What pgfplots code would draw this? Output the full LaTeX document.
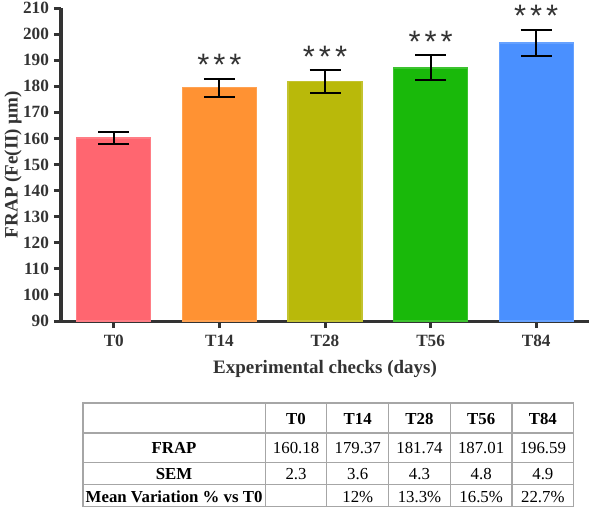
\documentclass[border=0pt]{standalone}
\usepackage{fontspec}
\setmainfont{Liberation Serif}
\setsansfont{Liberation Sans}
\usepackage{array}
\usepackage{colortbl}
\usepackage{pgfplots}
\pgfplotsset{compat=1.18}
\definecolor{cA}{HTML}{FF6670}
\definecolor{cB}{HTML}{FF9233}
\definecolor{cC}{HTML}{B9B90A}
\definecolor{cD}{HTML}{19B90A}
\definecolor{cE}{HTML}{4A90FF}
\definecolor{axgray}{HTML}{333333}
\definecolor{tabgray}{HTML}{A6A6A6}
\newcolumntype{C}[1]{>{\centering\arraybackslash}p{#1}}
\begin{document}
\begin{tikzpicture}
\path[use as bounding box] (-30.5pt,-94pt) rectangle (266.5pt,160.5pt);
\begin{axis}[
  at={(0,0)}, anchor=south west,
  scale only axis, width=264pt, height=156.5pt,
  xmin=-0.5, xmax=4.5, ymin=90, ymax=210,
  xtick={0,1,2,3,4}, xticklabels={T0,T14,T28,T56,T84},
  ytick={90,100,...,210},
  axis x line*=bottom, axis y line*=left,
  axis line style={line width=1.5pt, color=axgray, -},
  tick style={line width=1.5pt, color=axgray},
  tick align=outside,
  major tick length=3.5pt,
  /pgf/number format/assume math mode=true,
  tick label style={font=\fontsize{8.6}{10}\selectfont\bfseries, text=axgray},
  yticklabel style={xshift=1pt},
  xlabel={Experimental checks (days)},
  ylabel={FRAP (Fe(II) µm)},
  label style={font=\fontsize{9.5}{11}\selectfont\bfseries, text=axgray},
  ylabel style={at={(axis description cs:-0.091,0.5)}, anchor=center},
  error bars/error bar style={line width=1pt, black},
  error bars/error mark options={rotate=90, mark size=7.75pt, line width=1pt, black},
]
\addplot[ybar, bar width=0.7, fill=cA, draw=cA!85!white, line width=0.6pt,
  error bars/.cd, y dir=both, y explicit] coordinates {(0,160.18) +- (0,2.3)};
\addplot[ybar, bar width=0.7, fill=cB, draw=cB!85!white, line width=0.6pt,
  error bars/.cd, y dir=both, y explicit] coordinates {(1,179.37) +- (0,3.6)};
\addplot[ybar, bar width=0.7, fill=cC, draw=cC!85!white, line width=0.6pt,
  error bars/.cd, y dir=both, y explicit] coordinates {(2,181.74) +- (0,4.3)};
\addplot[ybar, bar width=0.7, fill=cD, draw=cD!85!white, line width=0.6pt,
  error bars/.cd, y dir=both, y explicit] coordinates {(3,187.01) +- (0,4.8)};
\addplot[ybar, bar width=0.7, fill=cE, draw=cE!85!white, line width=0.6pt,
  error bars/.cd, y dir=both, y explicit] coordinates {(4,196.59) +- (0,4.9)};
\addplot[draw=none, mark=none, point meta=explicit symbolic,
  nodes near coords,
  every node near coord/.append style={anchor=center, yshift=7pt,
    font=\fontsize{15.5}{15}\sffamily, text=axgray, inner sep=0pt}]
  coordinates {(1,182.97)[*\hspace{2pt}*\hspace{2pt}*] (2,186.04)[*\hspace{2pt}*\hspace{2pt}*]
               (3,191.81)[*\hspace{2pt}*\hspace{2pt}*] (4,201.49)[*\hspace{2pt}*\hspace{2pt}*]};
\end{axis}
\node[anchor=north west, inner sep=0pt] at (10.5pt,-40.5pt) {%
  \fontsize{8.4}{9}\selectfont
  \setlength{\tabcolsep}{0pt}%
  \setlength{\arrayrulewidth}{0.6pt}%
  \arrayrulecolor{tabgray}%
  \renewcommand{\arraystretch}{0}%
  \begin{tabular}{|C{90.5pt}|C{30.25pt}|C{30.25pt}|C{30.25pt}|C{30.25pt}|C{30.25pt}|}
  \hline
  \rule[-4pt]{0pt}{14.4pt} & \textbf{T0} & \textbf{T14} & \textbf{T28} & \textbf{T56} & \textbf{T84}\\ \hline
  \rule[-4pt]{0pt}{14pt}\textbf{FRAP} & 160.18 & 179.37 & 181.74 & 187.01 & 196.59\\ \hline
  \rule[-2.2pt]{0pt}{10.5pt}\textbf{SEM} & 2.3 & 3.6 & 4.3 & 4.8 & 4.9\\ \hline
  \rule[-2pt]{0pt}{10.5pt}\textbf{Mean Variation \% vs T0} & & 12\% & 13.3\% & 16.5\% & 22.7\%\\ \hline
  \end{tabular}};
\end{tikzpicture}
\end{document}
